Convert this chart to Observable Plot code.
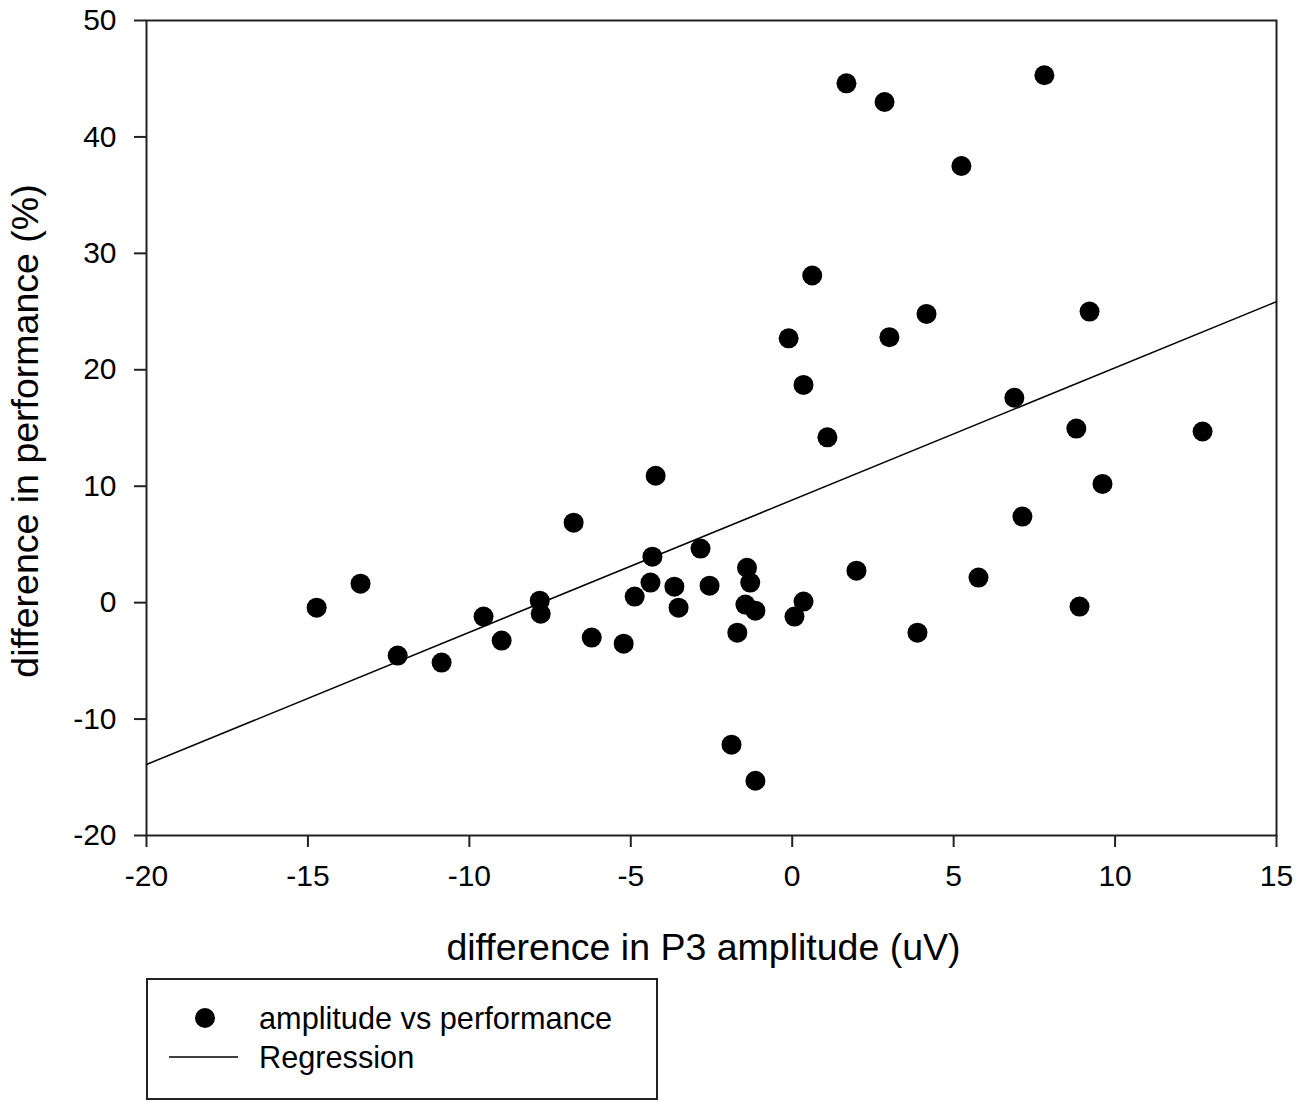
<!DOCTYPE html>
<html>
<head>
<meta charset="utf-8">
<script src="https://cdn.jsdelivr.net/npm/d3@7"></script>
<script src="https://cdn.jsdelivr.net/npm/@observablehq/plot@0.6"></script>
<style>
  body { margin: 0; background: #fff; font-family: "Liberation Sans", Arial, sans-serif; }
  #wrap { position: relative; width: 1300px; height: 1107px; }
  #legend { position: absolute; left: 146px; top: 978px; width: 508px; height: 118px;
            border: 2px solid #222; background: #fff; }
  #legend .t { position: absolute; left: 111px; font-size: 30.7px; color: #000; line-height: 1; }
</style>
</head>
<body>
<div id="wrap"><div id="chart"></div>
<div id="legend">
  <svg width="508" height="118" style="position:absolute;left:0;top:0">
    <circle cx="57" cy="38" r="10" fill="#000"></circle>
    <line x1="21" x2="90" y1="77" y2="77" stroke="#000" stroke-width="1.5"></line>
  </svg>
  <div class="t" style="top:24px">amplitude vs performance</div>
  <div class="t" style="top:63px">Regression</div>
</div>
</div>
<script>
// P3 amplitude difference (uV)
const ampDiff = [
  -14.73, -13.37, -12.22, -10.86, -9.56, -9.0, -7.82, -7.79, -6.77, -6.21,
  -5.22, -4.88, -4.39, -4.33, -4.23, -3.65, -3.52, -2.84, -2.56, -1.88,
  -1.70, -1.40, -1.45, -1.30, -1.14, -1.14, -0.11, 0.07, 0.35, 0.35,
  0.62, 1.09, 1.68, 1.99, 2.86, 3.01, 3.88, 4.16, 5.24, 5.77,
  6.88, 7.13, 7.81, 8.80, 8.90, 9.21, 9.61, 12.71
];
// performance difference (%)
const perfDiff = [
  -0.43, 1.63, -4.55, -5.15, -1.2, -3.26, 0.17, -0.95, 6.87, -3.0,
  -3.52, 0.52, 1.72, 3.95, 10.9, 1.37, -0.43, 4.64, 1.46, -12.2,
  -2.58, 3.0, -0.17, 1.72, -0.69, -15.3, 22.7, -1.2, 18.7, 0.09,
  28.1, 14.2, 44.6, 2.75, 43.0, 22.8, -2.58, 24.8, 37.5, 2.15,
  17.6, 7.39, 45.3, 14.95, -0.34, 25.0, 10.2, 14.7
];
// regression line endpoints
const regX = [-20, 15];
const regY = [-13.9, 25.85];

const xTicks = [-20, -15, -10, -5, 0, 5, 10, 15];
const yTicks = [-20, -10, 0, 10, 20, 30, 40, 50];
const xLabel = ["difference in P3 amplitude (uV)"];
const yLabel = ["difference in performance (%)"];

const pts = ampDiff.map((x, i) => ({x, y: perfDiff[i]}));
const reg = regX.map((x, i) => ({x, y: regY[i]}));
const fmt = d => String(d);

const chart = Plot.plot({
  width: 1300,
  height: 970,
  marginLeft: 146,
  marginRight: 24,
  marginTop: 20,
  marginBottom: 135,
  style: {fontFamily: "Liberation Sans, Arial, sans-serif", fontSize: "30px", color: "#000", background: "#fff", overflow: "visible"},
  x: {domain: [-20, 15], ticks: xTicks},
  y: {domain: [-20, 50], ticks: yTicks},
  marks: [
    Plot.frame({stroke: "#222", strokeWidth: 2}),
    Plot.axisX({ticks: xTicks, tickFormat: fmt, tickSize: 12, tickPadding: 17, strokeWidth: 2, stroke: "#222",
      label: null, fontSize: 30}),
    Plot.axisY({ticks: yTicks, tickFormat: fmt, tickSize: 12, tickPadding: 18, strokeWidth: 2, stroke: "#222",
      label: null, fontSize: 30}),
    Plot.text(xLabel, {text: d => d, frameAnchor: "bottom", dy: 112, dx: -8, fontSize: 37.5, fill: "#000", lineAnchor: "middle", textAnchor: "middle"}),
    Plot.text(yLabel, {text: d => d, frameAnchor: "left", dx: -121, dy: 3, rotate: -90, fontSize: 37.5, fill: "#000", lineAnchor: "middle", textAnchor: "middle"}),
    Plot.line(reg, {x: "x", y: "y", stroke: "#000", strokeWidth: 1.5}),
    Plot.dot(pts, {x: "x", y: "y", r: 10, fill: "#000"})
  ]
});
document.getElementById("chart").appendChild(chart);
</script>
</body>
</html>
